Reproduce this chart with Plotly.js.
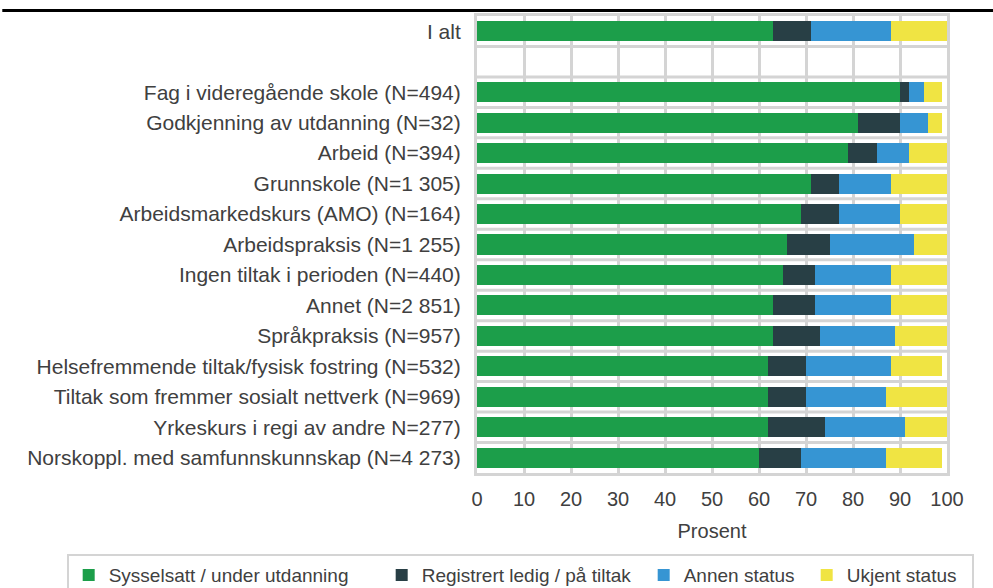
<!DOCTYPE html>
<html><head><meta charset="utf-8">
<script src="https://cdn.plot.ly/plotly-3.0.1.min.js"></script>
<style>html,body{margin:0;padding:0;background:#fff;}#chart{width:993px;height:588px;}</style>
</head><body><div id="chart"></div>
<script>
const categories = [
  "I alt",
  " ",
  "Fag i videregående skole (N=494)",
  "Godkjenning av utdanning (N=32)",
  "Arbeid (N=394)",
  "Grunnskole (N=1 305)",
  "Arbeidsmarkedskurs (AMO) (N=164)",
  "Arbeidspraksis (N=1 255)",
  "Ingen tiltak i perioden (N=440)",
  "Annet (N=2 851)",
  "Språkpraksis (N=957)",
  "Helsefremmende tiltak/fysisk fostring (N=532)",
  "Tiltak som fremmer sosialt nettverk (N=969)",
  "Yrkeskurs i regi av andre N=277)",
  "Norskoppl. med samfunnskunnskap (N=4 273)"
];
const seriesNames = ["Sysselsatt / under utdanning", "Registrert ledig / på tiltak", "Annen status", "Ukjent status"];
const sysselsatt = [63, null, 90, 81, 79, 71, 69, 66, 65, 63, 63, 62, 62, 62, 60];
const registrert = [8, null, 2, 9, 6, 6, 8, 9, 7, 9, 10, 8, 8, 12, 9];
const annen      = [17, null, 3, 6, 7, 11, 13, 18, 16, 16, 16, 18, 17, 17, 18];
const ukjent     = [12, null, 4, 3, 8, 12, 10, 7, 12, 12, 12, 11, 14, 9, 12];
const xTicks = [0, 10, 20, 30, 40, 50, 60, 70, 80, 90, 100];

const colors = ["#1c9e4a", "#283f45", "#3695d3", "#f0e443"];
const legendWidths = [268, 217, 118, 120];
const series = [sysselsatt, registrert, annen, ukjent];
const textColor = "#404040";
const gridColor = "#d4d4d4";

const traces = series.map((vals, i) => ({
  type: "bar",
  orientation: "h",
  name: seriesNames[i],
  y: categories,
  x: vals,
  marker: {color: colors[i], line: {width: 0}},
  legendwidth: legendWidths[i],
  hoverinfo: "skip"
}));

// horizontal separators between category bands (paper coordinates)
const n = categories.length;
const shapes = [];
for (let k = 1; k < n; k++) {
  const yp = 1 - k / n;
  shapes.push({type: "line", xref: "paper", yref: "paper", x0: 0, x1: 1, y0: yp, y1: yp,
    line: {color: gridColor, width: 3}, layer: "below"});
}
shapes.push({type: "line", xref: "paper", yref: "paper", x0: -1.01, x1: 1.1, y0: 1.012, y1: 1.012,
  line: {color: "#000", width: 3}});

const layout = {
  width: 993, height: 588,
  margin: {l: 477, r: 46, t: 16, b: 115, autoexpand: false},
  paper_bgcolor: "#fff", plot_bgcolor: "#fff",
  barmode: "stack",
  bargap: 0.34,
  font: {family: "Liberation Sans, Arial, sans-serif", size: 20, color: textColor},
  showlegend: true,
  legend: {
    orientation: "h", x: -0.873, xanchor: "left", y: -0.1775, yanchor: "top",
    bordercolor: gridColor, borderwidth: 2, bgcolor: "#fff",
    font: {size: 19, color: textColor}, traceorder: "normal"
  },
  xaxis: {
    range: [0, 100], tickvals: xTicks, ticktext: xTicks.map(String),
    showgrid: true, gridcolor: gridColor, gridwidth: 3,
    zeroline: false, showline: true, mirror: true, linecolor: gridColor, linewidth: 3,
    ticks: "outside", ticklen: 6, tickcolor: "rgba(0,0,0,0)",
    tickfont: {size: 20, color: textColor},
    title: {text: "Prosent", standoff: 15, font: {size: 20, color: textColor}},
    fixedrange: true
  },
  yaxis: {
    type: "category", autorange: "reversed",
    showgrid: false, zeroline: false, showline: true, mirror: true, linecolor: gridColor, linewidth: 3,
    ticks: "outside", ticklen: 9, tickcolor: "rgba(0,0,0,0)",
    tickfont: {size: 21, color: textColor},
    fixedrange: true
  },
  shapes: shapes
};

Plotly.newPlot("chart", traces, layout, {displayModeBar: false, staticPlot: true});
</script>
</body></html>
